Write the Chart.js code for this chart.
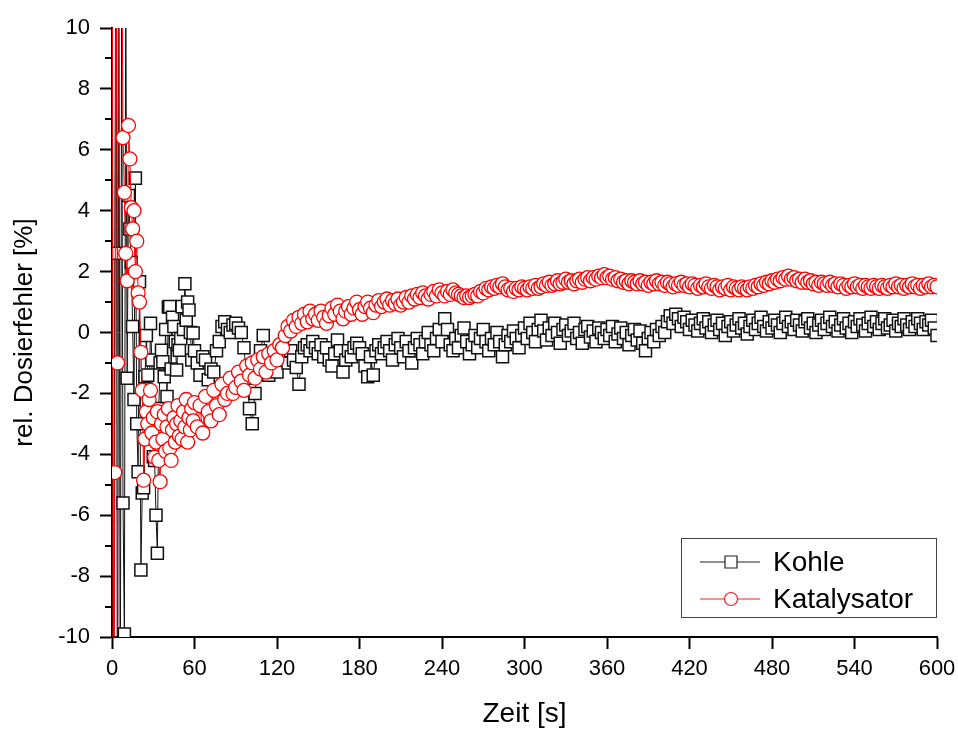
<!DOCTYPE html>
<html>
<head>
<meta charset="utf-8">
<script src="https://cdn.jsdelivr.net/npm/chart.js@4.4.0/dist/chart.umd.min.js"></script>
<style>
  body { margin: 0; background: #fff; }
</style>
</head>
<body>
<canvas id="dosierChart" width="958" height="731"></canvas>
<script>
// Zeitachse [s]: 1 s Raster bis 60 s, danach 2 s
const zeit = [
  0, 1, 2, 3, 4, 5, 6, 7, 8, 9,
  10, 11, 12, 13, 14, 15, 16, 17, 18, 19,
  20, 21, 22, 23, 24, 25, 26, 27, 28, 29,
  30, 31, 32, 33, 34, 35, 36, 37, 38, 39,
  40, 41, 42, 43, 44, 45, 46, 47, 48, 49,
  50, 51, 52, 53, 54, 55, 56, 57, 58, 59,
  60,
  62, 64, 66, 68, 70, 72, 74, 76, 78, 80,
  82, 84, 86, 88, 90, 92, 94, 96, 98, 100,
  102, 104, 106, 108, 110, 112, 114, 116, 118, 120,
  122, 124, 126, 128, 130, 132, 134, 136, 138, 140,
  142, 144, 146, 148, 150, 152, 154, 156, 158, 160,
  162, 164, 166, 168, 170, 172, 174, 176, 178, 180,
  182, 184, 186, 188, 190, 192, 194, 196, 198, 200,
  202, 204, 206, 208, 210, 212, 214, 216, 218, 220,
  222, 224, 226, 228, 230, 232, 234, 236, 238, 240,
  242, 244, 246, 248, 250, 252, 254, 256, 258, 260,
  262, 264, 266, 268, 270, 272, 274, 276, 278, 280,
  282, 284, 286, 288, 290, 292, 294, 296, 298, 300,
  302, 304, 306, 308, 310, 312, 314, 316, 318, 320,
  322, 324, 326, 328, 330, 332, 334, 336, 338, 340,
  342, 344, 346, 348, 350, 352, 354, 356, 358, 360,
  362, 364, 366, 368, 370, 372, 374, 376, 378, 380,
  382, 384, 386, 388, 390, 392, 394, 396, 398, 400,
  402, 404, 406, 408, 410, 412, 414, 416, 418, 420,
  422, 424, 426, 428, 430, 432, 434, 436, 438, 440,
  442, 444, 446, 448, 450, 452, 454, 456, 458, 460,
  462, 464, 466, 468, 470, 472, 474, 476, 478, 480,
  482, 484, 486, 488, 490, 492, 494, 496, 498, 500,
  502, 504, 506, 508, 510, 512, 514, 516, 518, 520,
  522, 524, 526, 528, 530, 532, 534, 536, 538, 540,
  542, 544, 546, 548, 550, 552, 554, 556, 558, 560,
  562, 564, 566, 568, 570, 572, 574, 576, 578, 580,
  582, 584, 586, 588, 590, 592, 594, 596, 598, 600
];

// rel. Dosierfehler Kohle [%]
const kohle = [
  24, -20, 2.6, 16, -18, 13, -14, 11, -5.6, -9.9,
  12, -1.5, 4.5, 3.4, 2.3, 0.2, -2.2, 5.07, -3.0, -4.57,
  1.67, -7.8, -5.27, -5.1, -1.45, -0.1, -1.4, -2.6, 0.3, -0.9,
  -4.08, -4.2, -6.0, -7.25, -2.5, -1.0, -0.58, -0.96, -1.45, 0.1,
  -2.1, 0.84, 0.85, -1.2, 0.5, 0.2, -0.3, -1.23, -0.4, -0.58,
  -0.2, 0.85, 0.1, 1.6, 0.4, 1.0, 0.74, 0.0, -0.9, -0.02,
  -0.6,
  -1.0, -1.4, -0.8, -0.9, -1.55, -1.2, -1.3, -0.6, -0.3, 0.2,
  0.35, 0.1, 0.0, 0.25, 0.3, 0.15, 0.0, -0.5, -1.5, -2.5,
  -3.0, -2.0, -1.2, -0.6, -0.1, -0.8, -1.4, -1.1, -0.8, -1.3,
  -0.9, -0.5, -0.7, -1.0, -0.6, -0.9, -1.15, -1.7, -0.8, -0.5,
  -0.4, -0.6, -0.3, -0.5, -0.7, -0.4, -0.8, -0.5, -0.9, -1.1,
  -0.7, -0.25, -0.6, -1.3, -0.9, -0.6, -0.8, -0.5, -0.35, -0.5,
  -0.7, -1.1, -1.45, -0.8, -1.4, -0.6, -0.4, -0.7, -0.5, -0.3,
  -0.6, -0.9, -0.4, -0.2, -0.5, -0.8, -0.3, -0.6, -1.0, -0.5,
  -0.2, -0.4, -0.7, -0.3, 0.0, -0.4, -0.6, -0.2, 0.1, -0.3,
  0.45, 0.1, -0.4, -0.6, -0.2, -0.5, -0.1, 0.15, -0.3, -0.7,
  -0.4, -0.1, -0.5, -0.2, 0.1, -0.3, -0.6, -0.2, -0.4, 0.0,
  -0.3, -0.8, -0.4, -0.1, -0.3, 0.05, -0.2, -0.5, -0.1, 0.15,
  -0.2, 0.3, 0.0, -0.3, 0.1, 0.4, 0.05, -0.25, 0.15, -0.1,
  0.3, 0.0, -0.35, 0.1, 0.25, -0.1, 0.05, 0.3, -0.2, 0.0,
  -0.35, 0.1, 0.2, -0.15, 0.05, -0.3, 0.15, 0.0, -0.2, 0.1,
  -0.1, 0.2, -0.3, -0.05, 0.15, -0.2, 0.0, -0.4, -0.1, 0.1,
  -0.25, 0.05, -0.35, -0.6, -0.2, 0.0, -0.3, 0.1, -0.1, 0.2,
  0.0, 0.35, 0.55, 0.3, 0.6, 0.45, 0.2, 0.5, 0.35, 0.1,
  0.4, 0.25, 0.05, 0.3, 0.45, 0.15, 0.35, 0.0, 0.25, 0.4,
  0.1, 0.3, -0.1, 0.2, 0.35, 0.05, 0.25, 0.45, 0.15, 0.3,
  -0.05, 0.2, 0.4, 0.1, 0.3, 0.5, 0.2, 0.05, 0.35, 0.15,
  0.4, 0.25, 0.0, 0.3, 0.5, 0.2, 0.35, 0.1, 0.4, 0.25,
  0.05, 0.35, 0.45, 0.15, 0.3, 0.0, 0.25, 0.4, 0.1, 0.3,
  0.5, 0.2, 0.35, 0.05, 0.25, 0.45, 0.15, 0.3, 0.0, 0.35,
  0.2, 0.45, 0.25, 0.05, 0.3, 0.5, 0.2, 0.35, 0.1, 0.3,
  0.45, 0.15, 0.25, 0.4, 0.05, 0.3, 0.2, 0.45, 0.25, 0.1,
  0.35, 0.2, 0.45, 0.3, 0.1, 0.35, 0.25, 0.4, 0.15, -0.1
];

// rel. Dosierfehler Katalysator [%]
const katalysator = [
  28, -22, -4.6, 14, -1.0, 22, 12, 15, 6.4, 4.6,
  2.6, 1.7, 6.8, 5.7, 4.1, 3.4, 4.0, 2.0, 3.0, 1.3,
  1.0, -0.65, -1.9, -4.85, -3.5, -2.6, -3.0, -2.2, -1.9, -3.3,
  -2.8, -4.1, -3.6, -2.6, -4.2, -4.9, -3.0, -3.5, -2.7, -3.9,
  -3.1, -2.5, -3.8, -4.2, -3.2, -2.8, -3.6, -3.0, -2.4, -3.4,
  -2.9, -3.5, -2.6, -3.1, -2.2, -3.6, -2.8, -3.2, -2.5, -2.9,
  -2.3,
  -3.1, -2.4, -3.3, -2.1, -2.6, -2.9, -1.9, -2.4, -2.7, -1.7,
  -2.2, -2.0, -1.5, -2.0, -1.8, -1.3, -1.6, -1.9, -1.1, -1.4,
  -1.0, -1.5, -0.9, -1.2, -0.8, -1.3, -0.7, -1.0, -0.6, -0.9,
  -0.4, -0.5, -0.1, 0.2, 0.05, 0.4, 0.2, 0.5, 0.3, 0.6,
  0.35, 0.7, 0.45, 0.6, 0.4, 0.7, 0.5, 0.3, 0.55, 0.8,
  0.6, 0.9, 0.7, 0.45, 0.7, 0.85, 0.6, 0.8, 1.0, 0.75,
  0.6, 0.85, 1.0, 0.8, 0.65, 0.9, 1.05, 0.85, 1.0, 1.1,
  0.9, 1.05, 0.95, 1.1, 0.9, 1.0, 1.15, 1.0, 1.2, 1.1,
  1.25, 1.15, 1.3, 1.2, 1.1, 1.25, 1.35, 1.2, 1.4, 1.3,
  1.2, 1.35, 1.25, 1.4, 1.3, 1.25, 1.2, 1.15, 1.2, 1.15,
  1.2, 1.25, 1.2, 1.35, 1.3, 1.45, 1.4, 1.5, 1.45, 1.55,
  1.5, 1.6, 1.5, 1.4, 1.45, 1.35, 1.45, 1.4, 1.5, 1.45,
  1.4, 1.5, 1.45, 1.55, 1.45, 1.5, 1.6, 1.55, 1.65, 1.55,
  1.6, 1.7, 1.6, 1.65, 1.75, 1.65, 1.7, 1.6, 1.7, 1.75,
  1.65, 1.75, 1.8, 1.7, 1.8, 1.75, 1.85, 1.8, 1.9, 1.8,
  1.85, 1.75, 1.8, 1.7, 1.75, 1.65, 1.7, 1.6, 1.7, 1.65,
  1.6, 1.7, 1.6, 1.65, 1.55, 1.65, 1.6, 1.7, 1.6, 1.65,
  1.55, 1.65, 1.6, 1.5, 1.6, 1.55, 1.65, 1.55, 1.6, 1.5,
  1.6, 1.55, 1.45, 1.55, 1.5, 1.6, 1.5, 1.45, 1.55, 1.5,
  1.4, 1.5, 1.45, 1.55, 1.4, 1.5, 1.45, 1.4, 1.5, 1.45,
  1.4, 1.5, 1.45, 1.55, 1.5, 1.6, 1.55, 1.65, 1.6, 1.7,
  1.65, 1.75, 1.7, 1.8, 1.75, 1.85, 1.75, 1.8, 1.7, 1.75,
  1.65, 1.75, 1.65, 1.7, 1.6, 1.65, 1.55, 1.65, 1.6, 1.55,
  1.65, 1.55, 1.6, 1.5, 1.6, 1.55, 1.45, 1.55, 1.5, 1.6,
  1.5, 1.55, 1.45, 1.55, 1.5, 1.45, 1.55, 1.5, 1.45, 1.55,
  1.5, 1.45, 1.55, 1.5, 1.6, 1.5, 1.55, 1.45, 1.55, 1.5,
  1.6, 1.5, 1.55, 1.45, 1.55, 1.5, 1.6, 1.5, 1.55, 1.5
];

const xTicks = [0, 60, 120, 180, 240, 300, 360, 420, 480, 540, 600];
const yTicks = [-10, -8, -6, -4, -2, 0, 2, 4, 6, 8, 10];
const yMinorTicks = [-9, -7, -5, -3, -1, 1, 3, 5, 7, 9];

const FONT = "'Liberation Sans', Arial, sans-serif";
Chart.defaults.font.family = FONT;
Chart.defaults.color = '#000';

function toPoints(values) {
    return zeit.map((t, i) => ({ x: t, y: values[i] }));
}

// minor ticks on the y axis and the framed legend
const extras = {
    id: 'extras',
    afterDraw(chart) {
        const ctx = chart.ctx;
        const yScale = chart.scales.y;
        const left = chart.chartArea.left;
        ctx.save();
        ctx.strokeStyle = '#000';
        ctx.lineWidth = 2;
        yMinorTicks.forEach(v => {
            const py = Math.round(yScale.getPixelForValue(v));
            ctx.beginPath();
            ctx.moveTo(left - 7, py);
            ctx.lineTo(left, py);
            ctx.stroke();
        });

        // legend
        ctx.lineWidth = 1;
        ctx.strokeStyle = '#444';
        ctx.strokeRect(681.5, 538.5, 255, 79);
        const items = [
            { label: 'Kohle', color: '#222', style: 'rect', y: 562 },
            { label: 'Katalysator', color: '#e8262b', style: 'circle', y: 599 }
        ];
        items.forEach(it => {
            ctx.strokeStyle = it.color;
            ctx.lineWidth = 1.2;
            ctx.beginPath();
            ctx.moveTo(700, it.y);
            ctx.lineTo(760, it.y);
            ctx.stroke();
            ctx.fillStyle = '#fff';
            ctx.beginPath();
            if (it.style === 'rect') {
                ctx.rect(725, it.y - 6, 12, 12);
            } else {
                ctx.arc(731, it.y, 6.5, 0, Math.PI * 2);
            }
            ctx.fill();
            ctx.stroke();
            ctx.fillStyle = '#000';
            ctx.font = '28px ' + FONT;
            ctx.textBaseline = 'middle';
            ctx.textAlign = 'left';
            ctx.fillText(it.label, 773, it.y + 1);
        });
        ctx.restore();
    }
};

const dosierConfig = {
    type: 'line',
    data: {
        datasets: [{
            label: 'Kohle',
            data: toPoints(kohle),
            borderColor: '#111',
            borderWidth: 1,
            pointStyle: 'rect',
            pointRadius: 8.5,
            pointBorderWidth: 1.5,
            pointBorderColor: '#111',
            pointBackgroundColor: '#fff',
            order: 2
        }, {
            label: 'Katalysator',
            data: toPoints(katalysator),
            borderColor: '#f00',
            borderWidth: 1,
            pointStyle: 'circle',
            pointRadius: 7,
            pointBorderWidth: 1.3,
            pointBorderColor: '#f00',
            pointBackgroundColor: '#fff',
            order: 1
        }]
    },
    options: {
        responsive: false,
        animation: false,
        layout: { padding: { top: 28, right: 21, left: 0, bottom: 0 } },
        plugins: {
            legend: { display: false },
            tooltip: { enabled: false }
        },
        scales: {
            x: {
                type: 'linear',
                min: 0,
                max: 600,
                afterFit(scale) {
                    scale.height = 94;
                    scale.paddingLeft = 0;
                    scale.paddingRight = 0;
                },
                afterBuildTicks(scale) { scale.ticks = xTicks.map(v => ({ value: v })); },
                ticks: { font: { size: 22 }, color: '#000', padding: 7, maxRotation: 0, autoSkip: false },
                grid: { drawOnChartArea: false, tickLength: 12, tickWidth: 2, tickColor: '#000' },
                border: { color: '#000', width: 2 },
                title: { display: true, text: 'Zeit [s]', font: { size: 28 }, color: '#000', padding: 0 }
            },
            y: {
                type: 'linear',
                min: -10,
                max: 10,
                afterFit(scale) {
                    scale.width = 112;
                    scale.paddingTop = 0;
                    scale.paddingBottom = 0;
                },
                afterBuildTicks(scale) { scale.ticks = yTicks.map(v => ({ value: v })); },
                ticks: { font: { size: 22 }, color: '#000', padding: 10 },
                grid: { drawOnChartArea: false, tickLength: 12, tickWidth: 2, tickColor: '#000' },
                border: { color: '#000', width: 2 },
                title: { display: true, text: 'rel. Dosierfehler [%]', font: { size: 26 }, color: '#000', padding: { top: 9, bottom: 0 } }
            }
        }
    },
    plugins: [extras]
};

const dosierChart = new Chart(
    document.getElementById('dosierChart'),
    dosierConfig
);
</script>
</body>
</html>
